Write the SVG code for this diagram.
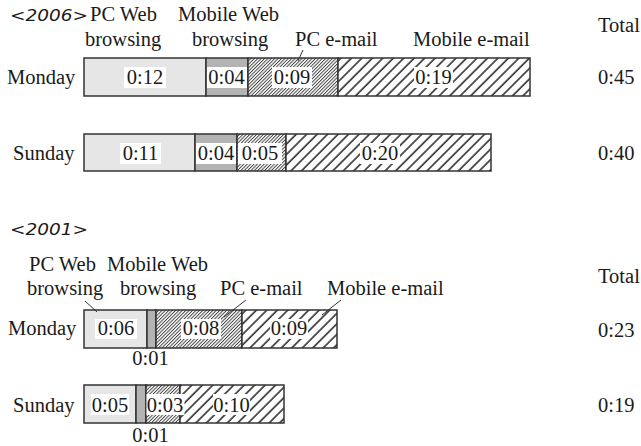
<svg xmlns="http://www.w3.org/2000/svg" width="641" height="446" viewBox="0 0 641 446">
<style>
text{font-family:"Liberation Serif","Times New Roman",serif;font-size:20.5px;fill:#1a1a1a}
.yr{font-family:"DejaVu Sans","Liberation Sans",sans-serif;font-style:italic;font-size:15px}
.c{text-anchor:middle}
.seg{stroke:#333;stroke-width:1.5}
.pcw{fill:#e6e6e6}
.mw{fill:#b3b3b3}
.pce{fill:url(#fine)}
.me{fill:url(#coarse)}
.box{fill:#fff}
.lead{stroke:#333;stroke-width:1;fill:none}
</style>
<defs>
<pattern id="fine" patternUnits="userSpaceOnUse" width="2.4" height="10" patternTransform="rotate(45)">
<rect width="2.4" height="10" fill="#fff"/>
<line x1="0.5" y1="0" x2="0.5" y2="10" stroke="#333" stroke-width="0.9"/>
</pattern>
<pattern id="coarse" patternUnits="userSpaceOnUse" width="7.4" height="10" patternTransform="rotate(45)">
<rect width="7.4" height="10" fill="#fff"/>
<line x1="1" y1="0" x2="1" y2="10" stroke="#222" stroke-width="1.5"/>
</pattern>
</defs>
<rect width="641" height="446" fill="#fff"/>

<g id="labels2006">
<text class="yr" x="10" y="21" textLength="78" lengthAdjust="spacingAndGlyphs">&lt;2006&gt;</text>
<text x="90" y="21">PC Web</text>
<text x="85" y="46">browsing</text>
<text x="178" y="21">Mobile Web</text>
<text x="192" y="46">browsing</text>
<text x="295" y="46">PC e-mail</text>
<text x="413" y="46">Mobile e-mail</text>
<text x="598" y="32">Total</text>
</g>

<g id="bar2006mon">
<text x="7" y="84">Monday</text>
<rect class="seg pcw" x="84" y="58" width="122" height="38"/>
<rect class="seg mw" x="206" y="58" width="42" height="38"/>
<rect class="seg pce" x="248" y="58" width="90" height="38"/>
<rect class="seg me" x="338" y="58" width="192" height="38"/>
<rect class="box" x="124" y="67" width="42" height="21"/>
<rect class="box" x="207" y="67" width="40" height="21"/>
<rect class="box" x="272" y="67" width="40" height="21"/>
<rect class="box" x="414" y="67" width="39" height="21"/>
<text class="c" x="145" y="84">0:12</text>
<text class="c" x="226.5" y="84">0:04</text>
<text class="c" x="292" y="84">0:09</text>
<text class="c" x="433.5" y="84">0:19</text>
<text x="598" y="84">0:45</text>
</g>

<g id="bar2006sun">
<text x="13" y="160">Sunday</text>
<rect class="seg pcw" x="84" y="134" width="111" height="37"/>
<rect class="seg mw" x="195" y="134" width="42" height="37"/>
<rect class="seg pce" x="237" y="134" width="49" height="37"/>
<rect class="seg me" x="286" y="134" width="205" height="37"/>
<rect class="box" x="120" y="143" width="41" height="21"/>
<rect class="box" x="196" y="143" width="40" height="21"/>
<rect class="box" x="238" y="143" width="44" height="21"/>
<rect class="box" x="360" y="143" width="40" height="21"/>
<text class="c" x="140.5" y="160">0:11</text>
<text class="c" x="216" y="160">0:04</text>
<text class="c" x="260" y="160">0:05</text>
<text class="c" x="380" y="160">0:20</text>
<text x="598" y="160">0:40</text>
</g>

<g id="labels2001">
<text class="yr" x="10" y="235" textLength="78" lengthAdjust="spacingAndGlyphs">&lt;2001&gt;</text>
<text x="29" y="271">PC Web</text>
<text x="27" y="295">browsing</text>
<text x="107" y="271">Mobile Web</text>
<text x="120" y="295">browsing</text>
<text x="220" y="295">PC e-mail</text>
<text x="327" y="295">Mobile e-mail</text>
<text x="598" y="283">Total</text>
</g>

<g id="bar2001mon">
<text x="8" y="335">Monday</text>
<rect class="seg pcw" x="84" y="310" width="63" height="38"/>
<rect class="seg mw" x="147" y="310" width="9" height="38"/>
<rect class="seg pce" x="156" y="310" width="86" height="38"/>
<rect class="seg me" x="242" y="310" width="95" height="38"/>
<rect class="box" x="95" y="319" width="42" height="20"/>
<rect class="box" x="181" y="319" width="40" height="20"/>
<rect class="box" x="270" y="319" width="38" height="20"/>
<text class="c" x="116" y="335">0:06</text>
<text class="c" x="201" y="335">0:08</text>
<text class="c" x="289" y="335">0:09</text>
<text class="c" x="150.5" y="365">0:01</text>
<text x="598" y="337">0:23</text>
</g>

<g id="bar2001sun">
<text x="13" y="412">Sunday</text>
<rect class="seg pcw" x="84" y="385" width="52" height="38"/>
<rect class="seg mw" x="136" y="385" width="10" height="38"/>
<rect class="seg pce" x="146" y="385" width="34" height="38"/>
<rect class="seg me" x="180" y="385" width="104" height="38"/>
<rect class="box" x="91" y="394" width="38" height="21"/>
<rect class="box" x="146.5" y="394" width="38" height="21"/>
<rect class="box" x="213" y="394" width="37" height="21"/>
<text class="c" x="110" y="412">0:05</text>
<text class="c" x="165" y="412">0:03</text>
<text class="c" x="231.5" y="412">0:10</text>
<text class="c" x="150.5" y="442">0:01</text>
<text x="598" y="412">0:19</text>
</g>

<g id="connectors">
<line class="lead" x1="303" y1="50" x2="298" y2="61"/>
<line class="lead" x1="85" y1="301" x2="97" y2="312"/>
<line class="lead" x1="246" y1="300" x2="224" y2="317"/>
<line class="lead" x1="341" y1="300" x2="322" y2="315"/>
</g>
</svg>
